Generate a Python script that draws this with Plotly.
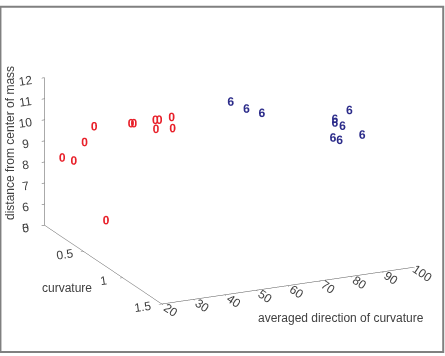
import plotly.graph_objects as go

# class "0" points (red)
red_dir = [23.1, 24.3, 30.2, 34.5, 40.0, 40.9, 50.2, 50.2, 52.9, 55.4, 58.2, 24.6]
red_curv = [0.1, 0.2, 0.1, 0.05, 0.3, 0.3, 0.2, 0.25, 0.1, 0.2, 0.1, 0.6]
red_dist = [8.40, 8.48, 8.98, 9.51, 10.16, 10.14, 9.85, 9.98, 9.11, 9.87, 9.03, 6.64]

# class "6" points (blue)
blue_dir = [69.2, 74.2, 79.1, 92.0, 87.4, 84.9, 89.8, 84.3, 88.9, 91.1]
blue_curv = [0.4, 0.4, 0.4, 1.0, 1.0, 1.1, 1.0, 1.1, 1.0, 1.2]
blue_dist = [10.80, 10.36, 10.05, 11.40, 11.08, 11.21, 10.70, 10.51, 10.05, 10.75]

x_ticks = [20, 30, 40, 50, 60, 70, 80, 90, 100]
y_ticks = [0, 0.5, 1, 1.5]
z_ticks = [5, 6, 7, 8, 9, 10, 11, 12]

fig = go.Figure()
fig.add_trace(go.Scatter3d(
    x=red_dir, y=red_curv, z=red_dist, mode="text",
    text=["0"] * len(red_dir), textposition="middle center",
    textfont=dict(color="#e8202a", size=12, family="Liberation Sans",
                  weight="bold"),
    hoverinfo="skip", showlegend=False))
fig.add_trace(go.Scatter3d(
    x=blue_dir, y=blue_curv, z=blue_dist, mode="text",
    text=["6"] * len(blue_dir), textposition="middle center",
    textfont=dict(color="#2c2c8a", size=12, family="Liberation Sans",
                  weight="bold"),
    hoverinfo="skip", showlegend=False))

axis_common = dict(
    showbackground=False, showgrid=False, zeroline=False,
    showline=True, linecolor="#555555", linewidth=1,
    ticks="outside", tickcolor="#555555", ticklen=3,
    tickfont=dict(family="Liberation Sans", size=12, color="#404040"),
    showspikes=False, title=dict(text=""),
)

fig.update_layout(
    width=445, height=356,
    margin=dict(l=0, r=0, t=0, b=0),
    paper_bgcolor="white",
    font=dict(family="Liberation Sans", color="#404040"),
    scene=dict(
        domain=dict(x=[0.03, 1], y=[0.03, 1]),
        xaxis=dict(axis_common, range=[20, 100], tickvals=x_ticks),
        yaxis=dict(axis_common, range=[1.5, 0], tickvals=y_ticks,
                   ticktext=["0", "0.5", "1", "1.5"]),
        zaxis=dict(axis_common, range=[5, 12], tickvals=z_ticks),
        aspectmode="manual",
        aspectratio=dict(x=1.61, y=1.61, z=0.9),
        camera=dict(
            eye=dict(x=-0.41, y=-0.88, z=0.32),
            center=dict(x=0, y=0, z=0),
            up=dict(x=0, y=0, z=1),
            projection=dict(type="orthographic"),
        ),
    ),
    annotations=[
        dict(text="distance from center of mass", xref="paper", yref="paper",
             x=10 / 445, y=1 - 143 / 356, textangle=-90, showarrow=False,
             xanchor="center", yanchor="middle",
             font=dict(size=12, color="#404040")),
        dict(text="curvature", xref="paper", yref="paper",
             x=67 / 445, y=1 - 288 / 356, showarrow=False,
             xanchor="center", yanchor="middle",
             font=dict(size=12, color="#404040")),
        dict(text="averaged direction of curvature", xref="paper", yref="paper",
             x=341 / 445, y=1 - 318 / 356, showarrow=False,
             xanchor="center", yanchor="middle",
             font=dict(size=12, color="#404040")),
    ],
    shapes=[dict(type="rect", xref="paper", yref="paper",
                 x0=0.001, y0=0.011, x1=0.996, y1=0.981,
                 line=dict(color="#808080", width=2))],
)

fig.write_html("out.html")
